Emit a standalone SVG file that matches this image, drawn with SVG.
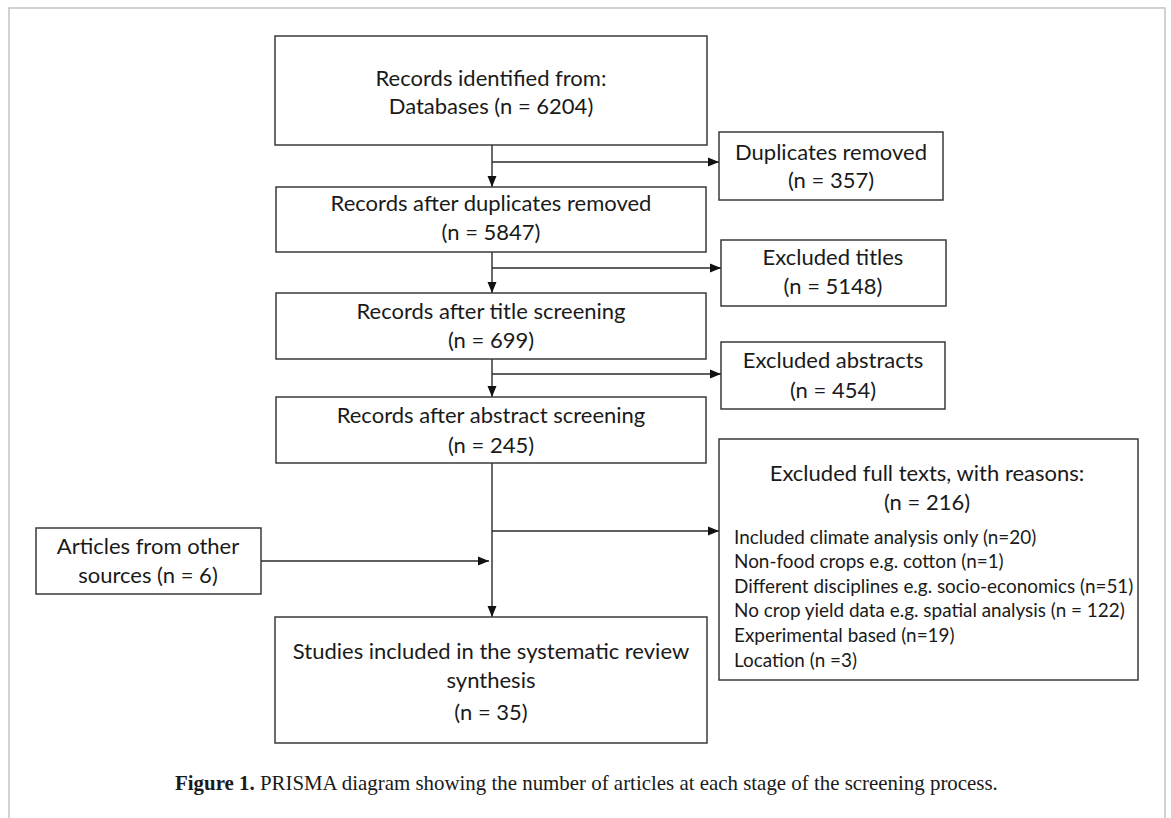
<svg xmlns="http://www.w3.org/2000/svg" width="1171" height="818" viewBox="0 0 1171 818">
<defs>
<marker id="ah" markerUnits="userSpaceOnUse" markerWidth="11" markerHeight="11" viewBox="0 0 11 11" refX="11" refY="5.5" orient="auto">
<path d="M0,1 L11,5.5 L0,10 Z" fill="#111"/>
</marker>
</defs>
<style>
.box{fill:#fff;stroke:#3a3a3a;stroke-width:1.5}
.t{font-family:Lato,"Liberation Sans",sans-serif;font-size:22px;fill:#1a1a1a;text-anchor:middle}
.s{font-family:Lato,"Liberation Sans",sans-serif;font-size:18.9px;fill:#1a1a1a}
.c{stroke:#2a2a2a;stroke-width:1.4;fill:none}
.frame{stroke:#c4c4c4;stroke-width:1.5;fill:none}
.cap{font-family:"Liberation Serif",serif;font-size:20.9px;fill:#1a1a1a}
</style>
<path class="frame" d="M9,818 V8 H1165 V818"/>
<g id="connectors">
<path class="c" d="M492,145 V187" marker-end="url(#ah)"/>
<path class="c" d="M492,162 H719" marker-end="url(#ah)"/>
<path class="c" d="M492,252 V293" marker-end="url(#ah)"/>
<path class="c" d="M492,268 H721" marker-end="url(#ah)"/>
<path class="c" d="M492,359 V397" marker-end="url(#ah)"/>
<path class="c" d="M492,374 H721" marker-end="url(#ah)"/>
<path class="c" d="M492,463 V617" marker-end="url(#ah)"/>
<path class="c" d="M492,531 H719" marker-end="url(#ah)"/>
<path class="c" d="M261,561 H489" marker-end="url(#ah)"/>
</g>
<g id="identified">
<rect class="box" x="275" y="36" width="432" height="109"/>
<text class="t" x="491" y="86">Records identified from:</text>
<text class="t" x="491" y="114">Databases (n = 6204)</text>
</g>
<g id="duplicates">
<rect class="box" x="719" y="132" width="224" height="68"/>
<text class="t" x="831" y="160">Duplicates removed</text>
<text class="t" x="831" y="188">(n = 357)</text>
</g>
<g id="after-duplicates">
<rect class="box" x="276" y="187" width="430" height="65"/>
<text class="t" x="491" y="211">Records after duplicates removed</text>
<text class="t" x="491" y="240">(n = 5847)</text>
</g>
<g id="excluded-titles">
<rect class="box" x="721" y="240" width="225" height="66"/>
<text class="t" x="833" y="265">Excluded titles</text>
<text class="t" x="833" y="294">(n = 5148)</text>
</g>
<g id="after-titles">
<rect class="box" x="276" y="293" width="430" height="66"/>
<text class="t" x="491" y="319">Records after title screening</text>
<text class="t" x="491" y="348">(n = 699)</text>
</g>
<g id="excluded-abstracts">
<rect class="box" x="721" y="342" width="224" height="67"/>
<text class="t" x="833" y="368">Excluded abstracts</text>
<text class="t" x="833" y="398">(n = 454)</text>
</g>
<g id="after-abstracts">
<rect class="box" x="276" y="397" width="430" height="66"/>
<text class="t" x="491" y="423">Records after abstract screening</text>
<text class="t" x="491" y="453">(n = 245)</text>
</g>
<g id="excluded-full">
<rect class="box" x="719" y="439" width="419" height="241"/>
<text class="t" x="927" y="481">Excluded full texts, with reasons:</text>
<text class="t" x="927" y="510">(n = 216)</text>
<text class="s" x="734" y="544">Included climate analysis only (n=20)</text>
<text class="s" x="734" y="568">Non-food crops e.g. cotton (n=1)</text>
<text class="s" x="734" y="593">Different disciplines e.g. socio-economics (n=51)</text>
<text class="s" x="734" y="617">No crop yield data e.g. spatial analysis (n = 122)</text>
<text class="s" x="734" y="642">Experimental based (n=19)</text>
<text class="s" x="734" y="667">Location (n =3)</text>
</g>
<g id="other-sources">
<rect class="box" x="36" y="528" width="225" height="66"/>
<text class="t" x="148" y="554">Articles from other</text>
<text class="t" x="148" y="583">sources (n = 6)</text>
</g>
<g id="included">
<rect class="box" x="275" y="617" width="432" height="126"/>
<text class="t" x="491" y="659">Studies included in the systematic review</text>
<text class="t" x="491" y="688">synthesis</text>
<text class="t" x="491" y="720">(n = 35)</text>
</g>
<text class="cap" x="175" y="790"><tspan font-weight="bold">Figure 1.</tspan> PRISMA diagram showing the number of articles at each stage of the screening process.</text>
</svg>
